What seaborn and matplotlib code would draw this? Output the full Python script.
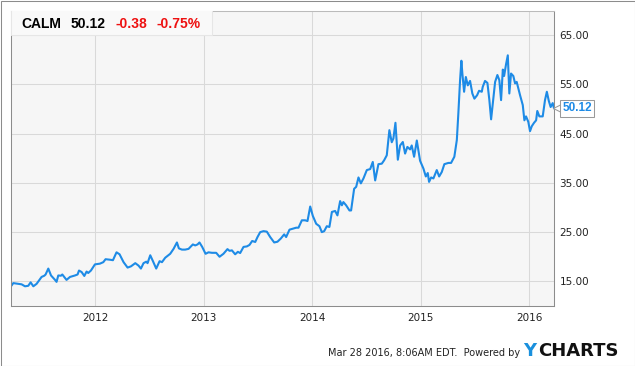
import numpy as np
import pandas as pd
import matplotlib
matplotlib.use("Agg")
import matplotlib.pyplot as plt
import matplotlib.dates as mdates
import matplotlib.transforms as mtransforms
from matplotlib.patches import Rectangle
import seaborn as sns

# CALM price (decimal year, close)
t_year = [
    2011.223, 2011.244, 2011.290, 2011.321, 2011.352, 2011.382, 2011.404, 2011.429, 2011.459, 2011.505,
    2011.530, 2011.542, 2011.567, 2011.592, 2011.629, 2011.643, 2011.659, 2011.684, 2011.696, 2011.714,
    2011.735, 2011.767, 2011.813, 2011.837, 2011.850, 2011.874, 2011.899, 2011.920, 2011.935, 2011.960,
    2011.997, 2012.043, 2012.074, 2012.095, 2012.135, 2012.163, 2012.196, 2012.224, 2012.261, 2012.298,
    2012.329, 2012.369, 2012.399, 2012.421, 2012.445, 2012.470, 2012.482, 2012.507, 2012.532, 2012.562,
    2012.593, 2012.615, 2012.645, 2012.691, 2012.722, 2012.753, 2012.771, 2012.799, 2012.829, 2012.860,
    2012.900, 2012.922, 2012.943, 2012.961, 2012.986, 2013.017, 2013.044, 2013.076, 2013.115, 2013.146,
    2013.182, 2013.219, 2013.238, 2013.260, 2013.290, 2013.315, 2013.336, 2013.367, 2013.398, 2013.422,
    2013.447, 2013.475, 2013.496, 2013.521, 2013.551, 2013.582, 2013.613, 2013.650, 2013.680, 2013.711,
    2013.742, 2013.760, 2013.791, 2013.822, 2013.853, 2013.874, 2013.905, 2013.935, 2013.957, 2013.982,
    2014.006, 2014.037, 2014.067, 2014.089, 2014.111, 2014.135, 2014.159, 2014.182, 2014.212, 2014.233,
    2014.258, 2014.274, 2014.288, 2014.313, 2014.344, 2014.359, 2014.387, 2014.406, 2014.427, 2014.449,
    2014.473, 2014.504, 2014.535, 2014.559, 2014.581, 2014.611, 2014.642, 2014.664, 2014.688, 2014.712,
    2014.734, 2014.749, 2014.768, 2014.790, 2014.811, 2014.836, 2014.857, 2014.878, 2014.903, 2014.918,
    2014.940, 2014.965, 2014.980, 2014.995, 2015.026, 2015.048, 2015.066, 2015.078, 2015.097, 2015.118,
    2015.149, 2015.171, 2015.195, 2015.219, 2015.256, 2015.281, 2015.311, 2015.334, 2015.348, 2015.364,
    2015.376, 2015.385, 2015.401, 2015.417, 2015.435, 2015.456, 2015.477, 2015.496, 2015.521, 2015.539,
    2015.564, 2015.573, 2015.594, 2015.616, 2015.634, 2015.650, 2015.671, 2015.687, 2015.708, 2015.726,
    2015.742, 2015.758, 2015.770, 2015.788, 2015.804, 2015.818, 2015.834, 2015.855, 2015.871, 2015.886,
    2015.901, 2015.917, 2015.942, 2015.957, 2015.972, 2015.993, 2016.009, 2016.025, 2016.046, 2016.065,
    2016.076, 2016.095, 2016.126, 2016.147, 2016.164, 2016.182, 2016.199, 2016.218, 2016.230]
price = [
    14.0, 14.65, 14.5, 14.4, 14.0, 14.1, 14.8, 14.0, 14.5, 15.9,
    16.15, 16.4, 17.6, 16.2, 15.3, 14.9, 16.2, 16.15, 16.4, 15.9,
    15.3, 15.9, 16.2, 16.4, 17.2, 16.9, 16.1, 17.0, 16.7, 17.2,
    18.45, 18.6, 18.9, 19.5, 19.4, 19.3, 20.9, 20.5, 18.9, 17.8,
    18.05, 18.7, 18.2, 17.6, 18.7, 19.0, 18.7, 20.3, 19.1, 17.6,
    19.1, 18.9, 19.8, 20.6, 21.6, 22.9, 21.7, 21.45, 21.45, 21.6,
    22.5, 22.3, 22.5, 22.9, 22.0, 20.6, 20.9, 20.8, 20.8, 20.0,
    20.6, 21.55, 21.2, 21.3, 20.5, 21.0, 20.75, 22.0, 22.1, 22.4,
    23.2, 23.0, 24.0, 25.0, 25.2, 25.1, 24.0, 22.9, 23.05, 23.7,
    24.55, 24.0, 25.5, 25.7, 25.9, 25.9, 27.4, 27.4, 27.25, 30.2,
    28.3, 26.7, 26.2, 25.0, 25.2, 26.2, 26.05, 29.1, 29.3, 28.4,
    31.3, 30.45, 31.1, 30.45, 29.4, 29.4, 33.8, 34.2, 36.1, 34.9,
    35.9, 37.6, 37.8, 39.25, 35.5, 38.8, 38.9, 39.6, 40.6, 45.7,
    43.25, 44.0, 47.2, 39.7, 42.6, 43.3, 40.95, 42.3, 41.8, 42.6,
    40.3, 43.6, 41.5, 39.5, 37.9, 36.3, 37.0, 35.2, 36.1, 35.9,
    37.6, 36.3, 37.2, 38.8, 39.05, 39.05, 40.3, 43.7, 49.1, 55.9,
    59.8, 57.2, 53.5, 56.5, 54.8, 55.7, 53.15, 52.1, 52.8, 53.7,
    53.5, 54.5, 55.7, 55.3, 51.8, 47.9, 52.1, 55.5, 56.9, 55.85,
    51.8, 58.0, 56.7, 59.1, 60.9, 53.15, 57.2, 56.7, 55.2, 55.5,
    54.2, 52.8, 50.8, 47.7, 48.5, 47.4, 45.5, 46.5, 47.2, 47.7,
    49.6, 48.5, 48.5, 51.8, 53.5, 51.65, 50.4, 51.2, 50.12]
y_ticks = [15, 25, 35, 45, 55, 65]
ticker = "CALM"
last_price = 50.12
change = "-0.38"
change_pct = "-0.75%"
stamp = "Mar 28 2016, 8:06AM EDT.  Powered by"

t = np.array(t_year)
dates = pd.Timestamp("2011-01-01") + pd.to_timedelta((t - 2011) * 365.25, unit="D")
df = pd.DataFrame({"date": dates, "price": price})

sns.set_style("whitegrid", {"axes.facecolor": "#f6f6f6", "grid.color": "#d9d9d9",
                            "axes.edgecolor": "#8c8c8c"})
plt.rcParams["font.family"] = ["DejaVu Sans"]

W, H = 635, 366
fig = plt.figure(figsize=(W / 100, H / 100), dpi=100)
ax = fig.add_axes([11 / W, 1 - 306 / H, (554 - 11) / W, (306 - 10.5) / H])

sns.lineplot(data=df, x="date", y="price", ax=ax, color="#1e8be6", linewidth=1.5)

ax.set_xlim(df["date"].min(), df["date"].max())
ax.set_ylim(10, 70)
ax.set_yticks(y_ticks)
ax.yaxis.tick_right()
ax.yaxis.set_major_formatter(plt.FormatStrFormatter("%.2f"))
ax.xaxis.set_major_locator(mdates.YearLocator())
ax.xaxis.set_major_formatter(mdates.DateFormatter("%Y"))
ax.set_xlabel("")
ax.set_ylabel("")
ax.tick_params(axis="both", length=0, labelsize=7.5, labelcolor="#222222")
ax.tick_params(axis="y", pad=4)
ax.tick_params(axis="x", pad=5)
ax.grid(True, linewidth=0.75)
for s in ax.spines.values():
    s.set_linewidth(0.75)
ax.spines["top"].set_color("#bbbbbb")

# header box with quote
ax.add_patch(Rectangle((0, (306 - 35) / (306 - 10.5)), (212 - 11) / 543, 1,
                       transform=ax.transAxes, facecolor="#f9f9f9", edgecolor="#e6e6e6",
                       linewidth=0.75, zorder=5, clip_on=True))
hdr = dict(fontsize=10, fontweight="bold", family=["Liberation Sans", "DejaVu Sans"],
           va="baseline", ha="left")
fig.text(21.7 / W, 1 - 28.3 / H, ticker, color="black", **hdr)
fig.text(70.7 / W, 1 - 28.3 / H, f"{last_price:.2f}", color="black", **hdr)
fig.text(115.7 / W, 1 - 28.3 / H, change, color="#ee1111", **hdr)
fig.text(156.7 / W, 1 - 28.3 / H, change_pct, color="#ee1111", **hdr)

# last price tag on the right axis
blend = mtransforms.blended_transform_factory(ax.transAxes, ax.transData)
ax.plot([1.0 + 3 / 543], [last_price], marker="<", ms=6, mfc="white", mec="#9a9a9a",
        mew=0.75, transform=blend, clip_on=False, zorder=6)
ax.text((577 - 11) / 543, last_price, f"{last_price:.2f}", transform=blend,
        ha="center", va="center", fontsize=8.5, fontweight="bold", color="#1e8be6",
        family=["Liberation Sans", "DejaVu Sans"], clip_on=False, zorder=7,
        bbox=dict(boxstyle="square,pad=0.2", fc="white", ec="#9a9a9a", lw=0.75))

# footer
fig.text(520 / W, 1 - 356 / H, stamp, fontsize=7, color="#222222", ha="right", va="baseline")
fig.text(522.7 / W, 1 - 356 / H, "Y", fontsize=13, fontweight="bold", color="#1a90dd",
         ha="left", va="baseline")
fig.text(538.5 / W, 1 - 356 / H, "CHARTS", fontsize=13, fontweight="bold", color="#111111",
         ha="left", va="baseline")

fig.patches.append(Rectangle((0.5 / W, 0.5 / H), 1 - 1 / W, 1 - 1 / H, transform=fig.transFigure,
                             fill=False, edgecolor="#8c8c8c", linewidth=0.75))

fig.savefig("out.png", dpi=100)
